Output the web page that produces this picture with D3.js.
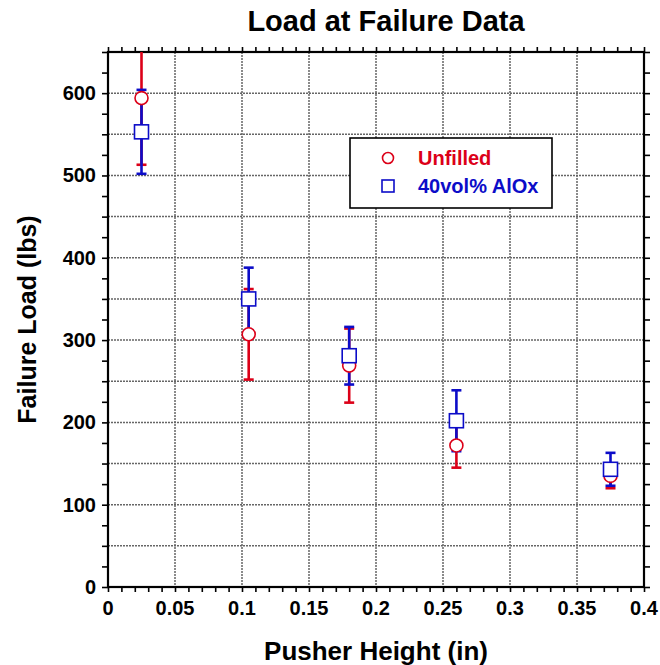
<!DOCTYPE html>
<html>
<head>
<meta charset="utf-8">
<script src="https://cdn.jsdelivr.net/npm/d3@7"></script>
<style>
  body { margin: 0; background: #fff; }
  text { font-family: "Liberation Sans", Arial, sans-serif; font-weight: bold; }
</style>
</head>
<body>
<svg id="chart" width="660" height="665"></svg>
<script>
const heights = [0.025, 0.105, 0.18, 0.26, 0.375];
const unfilledLoad = [594, 307, 269, 172, 135];
const unfilledErr = [81, 55, 45, 27, 15];
const aloxLoad = [553, 350, 281, 202, 143];
const aloxErr = [51, 38, 35, 37, 20];
const xTicks = [0, 0.05, 0.1, 0.15, 0.2, 0.25, 0.3, 0.35, 0.4];
const yTicks = [0, 100, 200, 300, 400, 500, 600];
const seriesNames = ["Unfilled", "40vol% AlOx"];

const margin = { top: 52, right: 16, bottom: 78, left: 108 };
const width = 660 - margin.left - margin.right;
const height = 665 - margin.top - margin.bottom;

const red = "#dc0018";
const blue = "#0c0cc8";

const svg = d3.select("#chart");

const x = d3.scaleLinear().domain([0, 0.4]).range([0, width]);
const y = d3.scaleLinear().domain([0, 650]).range([height, 0]);

const chart = svg.append("g")
  .attr("transform", `translate(${margin.left},${margin.top})`);

svg.append("defs").append("clipPath").attr("id", "clip")
  .append("rect").attr("width", width).attr("height", height);

// grid
chart.append("g").selectAll("line")
  .data(d3.range(50, 650, 50))
  .join("line")
  .attr("x1", 0).attr("x2", width)
  .attr("y1", d => y(d)).attr("y2", d => y(d))
  .attr("stroke", "#666").attr("stroke-width", 1.5).attr("stroke-dasharray", "2,1");

chart.append("g").selectAll("line")
  .data(xTicks.slice(1, -1))
  .join("line")
  .attr("x1", d => x(d)).attr("x2", d => x(d))
  .attr("y1", 0).attr("y2", height)
  .attr("stroke", "#666").attr("stroke-width", 1.5).attr("stroke-dasharray", "2,1");

// inward ticks
const xMinor = d3.range(0, 0.4001, 0.01);
const yMinor = d3.range(0, 651, 25);
chart.append("g").call(d3.axisTop(x).tickValues(xMinor).tickSize(-5).tickFormat(""))
  .attr("transform", `translate(0,${height})`);
chart.append("g").call(d3.axisBottom(x).tickValues(xMinor).tickSize(-5).tickFormat(""));
chart.append("g").call(d3.axisRight(y).tickValues(yMinor).tickSize(-6).tickFormat(""));
chart.append("g").call(d3.axisLeft(y).tickValues(yMinor).tickSize(-6).tickFormat(""))
  .attr("transform", `translate(${width},0)`);
chart.selectAll(".domain").remove();
chart.selectAll(".tick line").attr("stroke", "#000").attr("stroke-width", 1.6);

// tick labels
chart.append("g").selectAll("text")
  .data(xTicks)
  .join("text")
  .attr("x", d => x(d)).attr("y", height + 28)
  .attr("text-anchor", "middle")
  .attr("font-size", 20)
  .text(d => d);

chart.append("g").selectAll("text")
  .data(yTicks)
  .join("text")
  .attr("x", -12).attr("y", d => y(d) + 7)
  .attr("text-anchor", "end")
  .attr("font-size", 20)
  .text(d => d);

// frame
chart.append("rect")
  .attr("width", width).attr("height", height)
  .attr("fill", "none").attr("stroke", "#000").attr("stroke-width", 2.2);

// error bars
const plot = chart.append("g").attr("clip-path", "url(#clip)");

function errorBars(vals, errs, color) {
  const g = plot.append("g").attr("stroke", color).attr("stroke-width", 2.6);
  heights.forEach((h, i) => {
    const cx = x(h);
    g.append("line").attr("x1", cx).attr("x2", cx)
      .attr("y1", y(vals[i] - errs[i])).attr("y2", y(vals[i] + errs[i]));
    [vals[i] - errs[i], vals[i] + errs[i]].forEach(v => {
      g.append("line").attr("x1", cx - 5).attr("x2", cx + 5)
        .attr("y1", y(v)).attr("y2", y(v));
    });
  });
}
errorBars(unfilledLoad, unfilledErr, red);
errorBars(aloxLoad, aloxErr, blue);

plot.selectAll("circle.unf")
  .data(heights)
  .join("circle")
  .attr("class", "unf")
  .attr("cx", d => x(d))
  .attr("cy", (d, i) => y(unfilledLoad[i]))
  .attr("r", 6.5)
  .attr("fill", "#fff").attr("stroke", red).attr("stroke-width", 1.6);

plot.selectAll("rect.alox")
  .data(heights)
  .join("rect")
  .attr("class", "alox")
  .attr("x", d => x(d) - 7)
  .attr("y", (d, i) => y(aloxLoad[i]) - 7)
  .attr("width", 14).attr("height", 14)
  .attr("fill", "#fff").attr("stroke", blue).attr("stroke-width", 1.6);

// legend
const legend = svg.append("g").attr("transform", "translate(350,138)");
legend.append("rect")
  .attr("width", 202).attr("height", 70)
  .attr("fill", "#fff").attr("stroke", "#000").attr("stroke-width", 1.6);
legend.append("circle")
  .attr("cx", 38).attr("cy", 20).attr("r", 5.5)
  .attr("fill", "#fff").attr("stroke", red).attr("stroke-width", 1.6);
legend.append("rect")
  .attr("x", 32).attr("y", 42).attr("width", 12).attr("height", 12)
  .attr("fill", "#fff").attr("stroke", blue).attr("stroke-width", 1.6);
legend.append("text")
  .attr("x", 68).attr("y", 27).attr("font-size", 20).attr("fill", red)
  .text(seriesNames[0]);
legend.append("text")
  .attr("x", 68).attr("y", 55).attr("font-size", 20).attr("fill", blue)
  .text(seriesNames[1]);

// titles
svg.append("text")
  .attr("x", margin.left + width / 2 + 10).attr("y", 31)
  .attr("text-anchor", "middle").attr("font-size", 29)
  .text("Load at Failure Data");

svg.append("text")
  .attr("x", margin.left + width / 2).attr("y", 660)
  .attr("text-anchor", "middle").attr("font-size", 26)
  .text("Pusher Height (in)");

svg.append("text")
  .attr("transform", `translate(36,${margin.top + height / 2}) rotate(-90)`)
  .attr("text-anchor", "middle").attr("font-size", 25)
  .text("Failure Load (lbs)");
</script>
</body>
</html>
